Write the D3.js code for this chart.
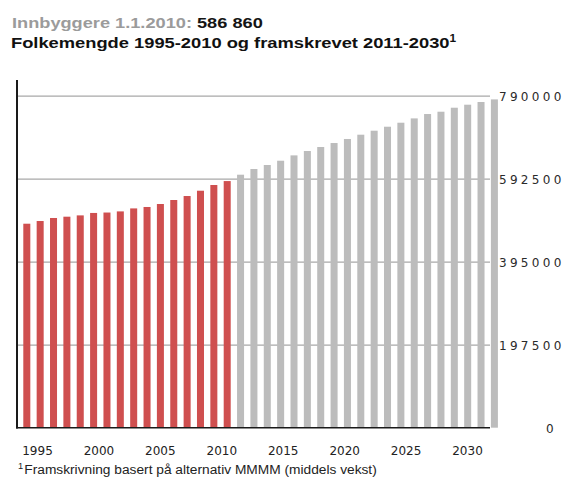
<!DOCTYPE html>
<html>
<head>
<meta charset="utf-8">
<script src="https://cdn.jsdelivr.net/npm/d3@7"></script>
<style>
  body { margin: 0; background: #fff; }
  svg { display: block; }
</style>
</head>
<body>
<svg id="chart" width="566" height="486"></svg>
<script>
// Registered population 1995-2010 (1 January each year)
const historyYears = [1995, 1996, 1997, 1998, 1999, 2000, 2001, 2002, 2003, 2004, 2005, 2006, 2007, 2008, 2009, 2010];
const historyValues = [485400, 491800, 499000, 502100, 505200, 511000, 512000, 514700, 521800, 525200, 532300, 541800, 551300, 563900, 577500, 586860];

// Projected population 2011-2030 (alternative MMMM)
const projectionYears = [2011, 2012, 2013, 2014, 2015, 2016, 2017, 2018, 2019, 2020, 2021, 2022, 2023, 2024, 2025, 2026, 2027, 2028, 2029, 2030];
const projectionValues = [602000, 615600, 625100, 635300, 648000, 658400, 667900, 677400, 687000, 697200, 706700, 716200, 725700, 736000, 746400, 751900, 761400, 768600, 775000, 781200];

// Axis ticks
const valueTicks = [0, 197500, 395000, 592500, 790000];
const yearTicks = [1995, 2000, 2005, 2010, 2015, 2020, 2025, 2030];

const headlineLabel = "Innbyggere 1.1.2010: ";
const headlineValue = "586 860";
const chartTitle = "Folkemengde 1995-2010 og framskrevet 2011-2030";
const footnote = "Framskrivning basert på alternativ MMMM (middels vekst)";

const svg = d3.select("#chart");

const allYears = historyYears.concat(projectionYears);
const bars = historyYears.map((yr, i) => ({ year: yr, value: historyValues[i], kind: "history" }))
  .concat(projectionYears.map((yr, i) => ({ year: yr, value: projectionValues[i], kind: "projection" })));

const y = d3.scaleLinear().domain([0, 790000]).range([427.7, 95.7]);
const x = d3.scaleBand().domain(allYears).range([23.3, 497.9]).paddingInner(0.475).paddingOuter(0);
const xYear = d3.scaleLinear().domain([1995, 2030]).range([37, 467]);

// Horizontal gridlines with value labels on the right
const gridAxis = svg.append("g")
  .attr("transform", "translate(490,0)")
  .call(d3.axisRight(y).tickValues(valueTicks).tickSize(-473).tickPadding(9).tickFormat(d3.format("d")));
gridAxis.select(".domain").remove();
gridAxis.selectAll(".tick line").attr("stroke", "#a8a8a8").attr("stroke-width", 1.2)
  .filter(d => d === 0).remove();
gridAxis.selectAll(".tick text")
  .attr("font-family", "'DejaVu Sans', Verdana, sans-serif")
  .attr("font-size", 12)
  .attr("letter-spacing", 3.3)
  .attr("fill", "#2a2a2a")
  .attr("dy", "0.36em")
  .filter(d => d === 0).attr("x", 56);

// Bars
svg.append("g").selectAll("rect").data(bars).join("rect")
  .attr("x", d => x(d.year))
  .attr("y", d => y(d.value))
  .attr("width", x.bandwidth())
  .attr("height", d => y(0) - y(d.value))
  .attr("fill", d => d.kind === "history" ? "#cf4f4f" : "#bcbcbc");

// Left axis line and baseline
svg.append("line").attr("x1", 17).attr("x2", 17).attr("y1", 80).attr("y2", 428.5)
  .attr("stroke", "#1a1a1a").attr("stroke-width", 2);
svg.append("line").attr("x1", 16).attr("x2", 490).attr("y1", 427.7).attr("y2", 427.7)
  .attr("stroke", "#1a1a1a").attr("stroke-width", 1.5);

// Year labels
const yearAxis = svg.append("g")
  .attr("transform", "translate(0,427.7)")
  .call(d3.axisBottom(xYear).tickValues(yearTicks).tickSize(0).tickPadding(18.8).tickFormat(d3.format("d")));
yearAxis.select(".domain").remove();
yearAxis.selectAll(".tick text")
  .attr("font-family", "'DejaVu Sans', Verdana, sans-serif")
  .attr("font-size", 12)
  .attr("fill", "#222");

// Stretch a text element horizontally so it spans [left, right]
function fitText(sel, left, right) {
  const w = sel.node().getBBox().width;
  sel.attr("transform", `translate(${left},0) scale(${(right - left) / w},1)`);
}

// Headline
const head = svg.append("text")
  .attr("x", 0).attr("y", 28.3)
  .attr("font-family", "'Liberation Sans', Arial, sans-serif")
  .attr("font-weight", "bold")
  .attr("font-size", 15.5);
head.append("tspan").attr("fill", "#9b9b9b").text(headlineLabel);
head.append("tspan").attr("fill", "#151515").text(headlineValue);
fitText(head, 12, 263);

// Title with footnote marker
const title = svg.append("text")
  .attr("x", 0).attr("y", 47.7)
  .attr("font-family", "'Liberation Sans', Arial, sans-serif")
  .attr("font-weight", "bold")
  .attr("font-size", 15.5)
  .attr("fill", "#111");
title.append("tspan").text(chartTitle);
title.append("tspan").attr("font-size", 10).attr("dy", -6).text("1");
fitText(title, 11, 457);

// Footnote
const note = svg.append("text")
  .attr("x", 0).attr("y", 474)
  .attr("font-family", "'Liberation Sans', Arial, sans-serif")
  .attr("font-size", 12.5)
  .attr("fill", "#222");
note.append("tspan").attr("font-size", 8.5).attr("dy", -5).text("1");
note.append("tspan").attr("dy", 5).attr("dx", 1).text(footnote);
fitText(note, 18, 377);
</script>
</body>
</html>
